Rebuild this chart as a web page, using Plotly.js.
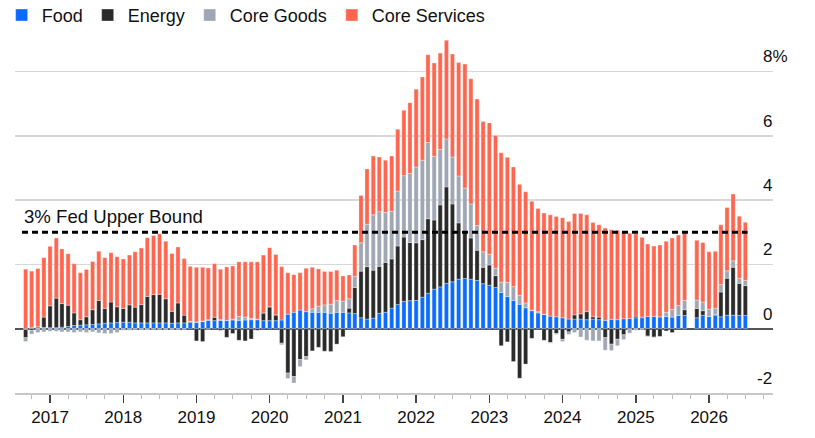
<!DOCTYPE html>
<html>
<head>
<meta charset="utf-8">
<script src="https://cdn.plot.ly/plotly-3.0.1.min.js"></script>
<style>
  html, body { margin: 0; padding: 0; background: #fff; }
  #chart { width: 815px; height: 438px; }
</style>
</head>
<body>
<div id="chart"></div>
<script>
// monthly contributions to CPI, Sep 2016 .. Jul 2026 (Oct 2025 missing)
var firstMonth = [2016, 9];
var monthCount = 119;

var food = [
  -0.03, 0.03, 0.03, 0.04,
  0.03, 0.03, 0.05, 0.07, 0.10, 0.11, 0.12, 0.13, 0.15, 0.17, 0.18, 0.19,
  0.20, 0.20, 0.18, 0.18, 0.18, 0.18, 0.18, 0.18, 0.17, 0.18, 0.18, 0.20,
  0.20, 0.22, 0.26, 0.25, 0.26, 0.26, 0.27, 0.26, 0.27, 0.28, 0.28, 0.25,
  0.25, 0.25, 0.27, 0.45, 0.51, 0.58, 0.53, 0.51, 0.51, 0.51, 0.48, 0.51,
  0.51, 0.49, 0.47, 0.34, 0.30, 0.33, 0.48, 0.51, 0.64, 0.75, 0.85, 0.87,
  0.88, 0.98, 1.10, 1.23, 1.30, 1.41, 1.46, 1.54, 1.56, 1.54, 1.50, 1.40,
  1.35, 1.28, 1.13, 1.00, 0.88, 0.76, 0.65, 0.56, 0.49, 0.44, 0.39, 0.37,
  0.34, 0.30, 0.30, 0.30, 0.28, 0.30, 0.28, 0.26, 0.29, 0.28, 0.31, 0.32,
  0.34, 0.34, 0.38, 0.38, 0.37, 0.38, 0.36, 0.42, 0.41, null, 0.34, 0.42,
  0.38, 0.42, 0.37, 0.42, 0.42, 0.41, 0.41
];
var energy = [
  -0.25, -0.05, 0.03, 0.32,
  0.68, 0.92, 0.73, 0.66, 0.39, 0.17, 0.25, 0.46, 0.73, 0.46, 0.65, 0.49,
  0.43, 0.54, 0.49, 0.57, 0.82, 0.88, 0.89, 0.75, 0.37, 0.62, 0.24, 0.02,
  -0.38, -0.40, -0.02, 0.11, -0.05, -0.27, -0.15, -0.36, -0.38, -0.32, -0.05, 0.24,
  0.43, 0.18, -0.45, -1.38, -1.49, -0.96, -0.87, -0.69, -0.58, -0.70, -0.71, -0.48,
  -0.25, 0.15, 0.81, 1.45, 1.63, 1.49, 1.46, 1.55, 1.53, 1.82, 2.00, 1.81,
  1.79, 1.79, 2.32, 2.15, 2.55, 3.00, 2.42, 1.75, 1.44, 1.28, 0.94, 0.51,
  0.63, 0.37, -0.53, -0.41, -1.02, -1.54, -1.10, -0.30, 0.02, -0.36, -0.43, -0.15,
  -0.33, -0.10, 0.13, 0.16, 0.25, 0.07, 0.08, -0.28, -0.48, -0.33, -0.19, -0.02,
  0.05, 0.02, -0.23, -0.26, -0.24, -0.07, -0.12, 0.00, 0.18, null, 0.29, 0.14,
  0.00, 0.02, 0.77, 1.15, 1.49, 1.00, 0.93
];
var coreGoods = [
  -0.12, -0.12, -0.12, -0.10,
  -0.08, -0.08, -0.10, -0.10, -0.12, -0.10, -0.12, -0.10, -0.13, -0.15, -0.15, -0.12,
  -0.05, -0.05, -0.02, -0.03, -0.04, -0.02, -0.02, -0.03, -0.03, -0.02, -0.02, 0.01,
  0.01, 0.02, 0.02, 0.00, 0.02, 0.00, 0.03, 0.12, 0.09, 0.04, 0.02, 0.00,
  0.00, 0.00, -0.05, -0.17, -0.20, -0.22, -0.10, 0.11, 0.19, 0.23, 0.28, 0.36,
  0.35, 0.29, 0.35, 0.88, 1.32, 1.72, 1.70, 1.55, 1.48, 1.71, 1.91, 2.15,
  2.36, 2.47, 2.37, 1.98, 1.72, 1.49, 1.46, 1.46, 1.37, 1.06, 0.77, 0.48,
  0.33, 0.23, 0.32, 0.44, 0.43, 0.28, 0.15, 0.02, 0.02, 0.01, -0.02, -0.03,
  -0.07, -0.08, -0.12, -0.26, -0.36, -0.38, -0.38, -0.39, -0.20, -0.20, -0.15, -0.12,
  -0.05, -0.02, -0.02, -0.02, 0.00, 0.13, 0.24, 0.30, 0.29, null, 0.26, 0.27,
  0.23, 0.20, 0.23, 0.23, 0.20, 0.16, 0.16
];
var coreServices = [
  1.85, 1.76, 1.81, 1.85,
  1.85, 1.87, 1.70, 1.60, 1.53, 1.46, 1.47, 1.50, 1.53, 1.58, 1.53, 1.56,
  1.54, 1.55, 1.72, 1.76, 1.83, 1.84, 1.88, 1.79, 1.80, 1.74, 1.76, 1.71,
  1.70, 1.67, 1.61, 1.66, 1.57, 1.66, 1.65, 1.70, 1.72, 1.76, 1.78, 1.80,
  1.84, 1.88, 1.66, 1.29, 1.17, 1.16, 1.35, 1.29, 1.16, 1.04, 1.02, 0.95,
  0.78, 0.74, 0.97, 1.47, 1.72, 1.83, 1.70, 1.63, 1.72, 1.92, 2.03, 2.20,
  2.42, 2.59, 2.73, 2.90, 3.00, 3.07, 3.20, 3.53, 3.86, 3.89, 3.93, 4.05,
  4.09, 4.13, 4.02, 3.89, 3.72, 3.45, 3.46, 3.38, 3.21, 3.15, 3.15, 3.12,
  3.11, 3.03, 3.15, 3.12, 3.01, 2.93, 2.87, 2.87, 2.79, 2.78, 2.69, 2.65,
  2.56, 2.48, 2.25, 2.19, 2.23, 2.21, 2.22, 2.19, 2.12, null, 1.86, 1.85,
  1.78, 1.77, 1.86, 1.97, 2.08, 1.93, 1.81
];

var seriesNames = ['Food', 'Energy', 'Core Goods', 'Core Services'];
var seriesColors = ['#0a6cff', '#2a2a2a', '#9ea7b3', '#ff6650'];

var fedBound = 3;
var fedLabel = '3% Fed Upper Bound';
var yTickVals = [-2, 0, 2, 4, 6, 8];
var yTickText = ['-2', '0', '2', '4', '6', '8%'];

// month dates
var months = [];
for (var i = 0; i < monthCount; i++) {
  var m = firstMonth[1] - 1 + i;
  var yr = firstMonth[0] + Math.floor(m / 12);
  var mo = (m % 12) + 1;
  months.push(yr + '-' + (mo < 10 ? '0' + mo : mo) + '-01');
}

var allSeries = [food, energy, coreGoods, coreServices];
var data = [];
allSeries.forEach(function(vals, k){
  data.push({
    x: months,
    y: vals,
    name: seriesNames[k],
    type: 'bar',
    marker: {color: seriesColors[k], line: {color: 'rgba(255,255,255,0.55)', width: 0.6}},
    hoverinfo: 'x+y+name'
  });
});

var annotations = [];
yTickVals.forEach(function(v, k){
  var last = (k == yTickVals.length - 1);
  annotations.push({
    xref: 'paper', yref: 'y',
    x: 1, y: v,
    text: yTickText[k],
    showarrow: false,
    xanchor: last ? 'left' : 'right',
    xshift: last ? -12 : 1,
    yanchor: 'bottom', yshift: 3,
    font: {size: 17, color: '#111'}
  });
});
annotations.push({
  xref: 'x', yref: 'y',
  x: months[0], y: fedBound,
  text: fedLabel,
  showarrow: false,
  xanchor: 'left', xshift: -4,
  yanchor: 'bottom', yshift: 3,
  font: {size: 18.6, color: '#111'}
});

var layout = {
  width: 815,
  height: 438,
  margin: {l: 15, r: 42, t: 30, b: 45},
  paper_bgcolor: '#fff',
  plot_bgcolor: '#fff',
  font: {family: '"Liberation Sans", Arial, sans-serif', size: 17, color: '#111'},
  barmode: 'relative',
  bargap: 0.26,
  showlegend: true,
  legend: {
    orientation: 'h',
    xref: 'container', yref: 'container',
    x: 0.002, xanchor: 'left',
    y: 0.965, yanchor: 'middle',
    font: {size: 18, color: '#111'},
    bgcolor: 'rgba(0,0,0,0)',
    traceorder: 'normal',
    itemclick: false, itemdoubleclick: false
  },
  xaxis: {
    type: 'date',
    range: ['2016-07-10', '2026-11-16'],
    automargin: false,
    showgrid: false,
    zeroline: false,
    showline: true,
    linecolor: '#c8c8c8',
    linewidth: 1.5,
    ticks: 'outside',
    ticklen: 8,
    tickwidth: 1.5,
    tickcolor: '#444',
    tick0: '2017-01-01',
    dtick: 'M12',
    tickformat: '%Y',
    tickfont: {size: 17, color: '#111'},
    minor: {dtick: 'M3', tick0: '2017-01-01', ticks: 'outside', ticklen: 4, tickwidth: 1, tickcolor: '#bbb', showgrid: false}
  },
  yaxis: {
    range: [-2, 9.17],
    automargin: false,
    tickvals: yTickVals,
    showticklabels: false,
    showgrid: true,
    gridcolor: '#d8d8d8',
    gridwidth: 1.5,
    zeroline: true,
    zerolinecolor: '#555',
    zerolinewidth: 2,
    fixedrange: true
  },
  shapes: [{
    type: 'line',
    xref: 'x', yref: 'y',
    x0: '2016-08-14', x1: '2026-07-12',
    y0: fedBound, y1: fedBound,
    line: {color: '#000', width: 2.8, dash: '6px,4px'},
    layer: 'above'
  }],
  annotations: annotations
};

Plotly.newPlot('chart', data, layout, {displayModeBar: false, staticPlot: true});
</script>
</body>
</html>
